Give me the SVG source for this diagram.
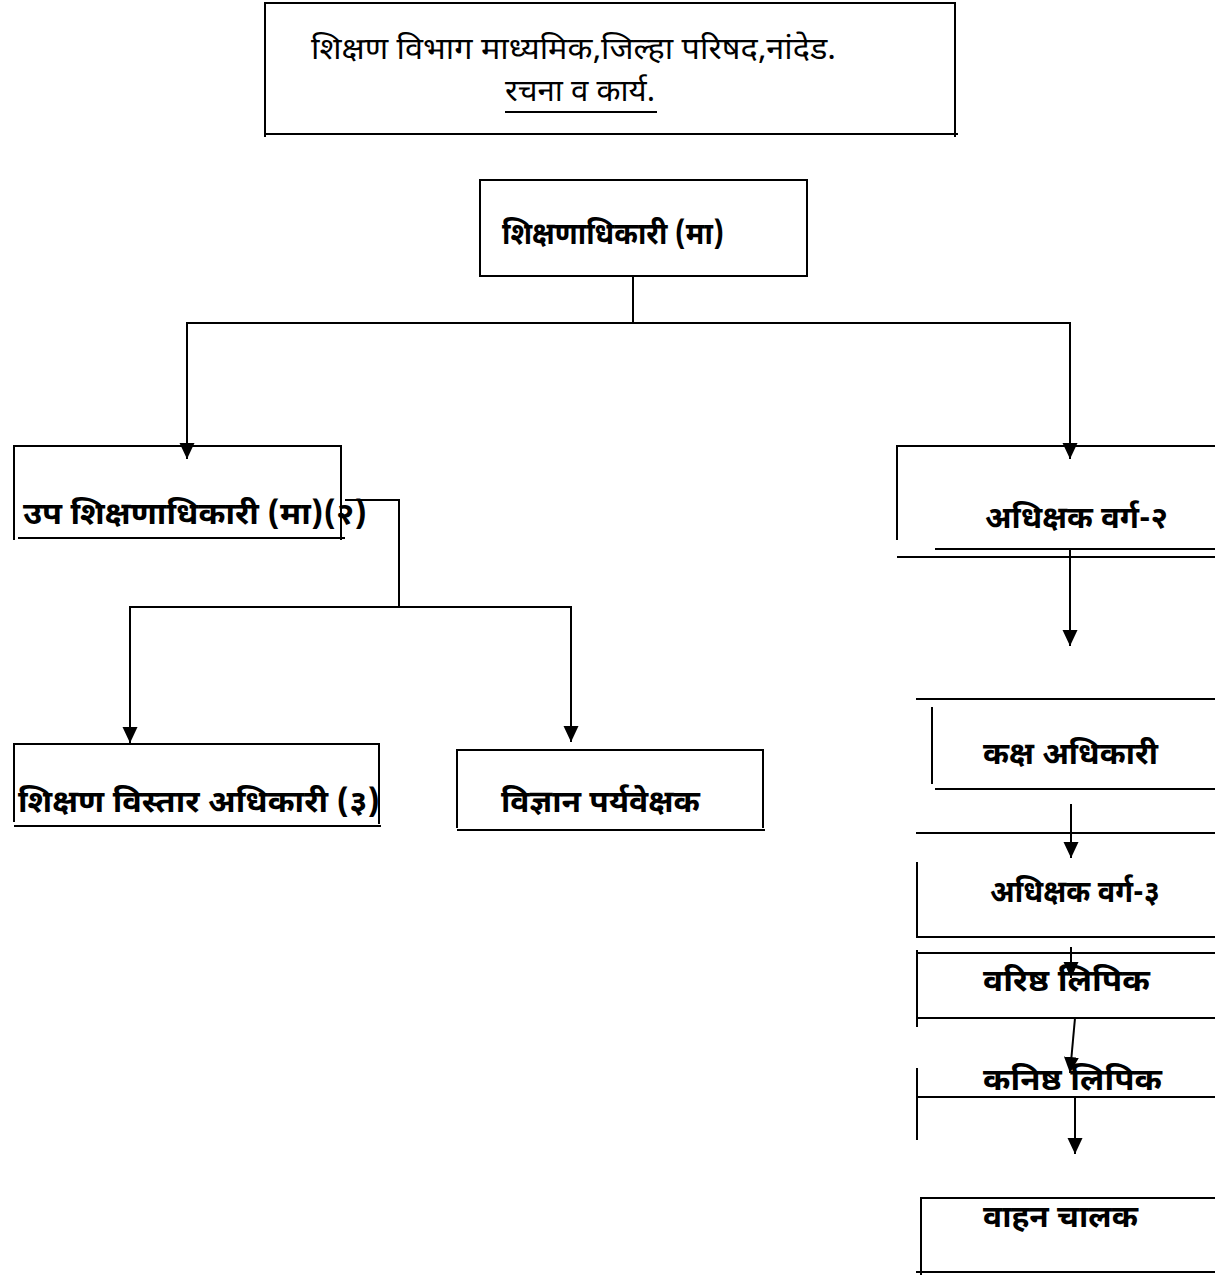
<svg xmlns="http://www.w3.org/2000/svg" width="1215" height="1275" viewBox="0 0 1215 1275">
<style>
  .ln { stroke:#000; stroke-width:2; fill:none; }
  .t { font-family:"Noto Sans Devanagari","Lohit Devanagari","Noto Sans","DejaVu Sans",sans-serif; fill:#000; }
  .b { font-weight:bold; font-size:31px; }
  .r { font-size:30px; }
</style>
<defs>
  <marker id="ah" markerUnits="userSpaceOnUse" markerWidth="16" markerHeight="16" viewBox="0 0 16 16" refX="16" refY="8" orient="auto">
    <path d="M0 0.5 L16 8 L0 15.5 Z" fill="#000"/>
  </marker>
</defs>
<rect width="1215" height="1275" fill="#fff"/>

<g id="title">
  <path class="ln" d="M265 137 V3 H955 V137 M264 134 H958"/>
  <text class="t r" x="311" y="59" textLength="525" lengthAdjust="spacingAndGlyphs">शिक्षण विभाग माध्यमिक,जिल्हा परिषद,नांदेड.</text>
  <text class="t r" x="505" y="101" textLength="150" lengthAdjust="spacingAndGlyphs">रचना व कार्य.</text>
  <line class="ln" x1="505" y1="112" x2="657" y2="112"/>
</g>

<g id="n-eo">
  <rect class="ln" x="480" y="180" width="327" height="96"/>
  <text class="t b" x="502" y="244" textLength="222" lengthAdjust="spacingAndGlyphs">शिक्षणाधिकारी (मा)</text>
</g>

<g id="n-deo">
  <path class="ln" d="M14 540 V446 H341 V540 M18 538 H345"/>
  <text class="t b" x="23" y="524" textLength="344" lengthAdjust="spacingAndGlyphs">उप शिक्षणाधिकारी (मा)(२)</text>
</g>

<g id="n-beo">
  <path class="ln" d="M14 822 V744 H379 V824 M14 826 H381"/>
  <text class="t b" x="18" y="812" textLength="362" lengthAdjust="spacingAndGlyphs">शिक्षण विस्तार अधिकारी (३)</text>
</g>

<g id="n-sci">
  <path class="ln" d="M457 828 V750 H763 V828 M457 830 H765"/>
  <text class="t b" x="501" y="812" textLength="199" lengthAdjust="spacingAndGlyphs">विज्ञान पर्यवेक्षक</text>
</g>

<g id="n-sup2">
  <path class="ln" d="M897 540 V446 H1215 M935 549 H1215 M897 557 H1215"/>
  <text class="t b" x="985" y="528" textLength="183" lengthAdjust="spacingAndGlyphs">अधिक्षक वर्ग-२</text>
</g>

<g id="n-desk">
  <path class="ln" d="M916 699 H1215 M932 707 V784 M935 789 H1215"/>
  <text class="t b" x="983" y="764" textLength="175" lengthAdjust="spacingAndGlyphs">कक्ष अधिकारी</text>
</g>

<g id="n-sup3">
  <path class="ln" d="M916 833 H1215 M917 862 V937 M916 937 H1215"/>
  <text class="t b" x="990" y="902" textLength="170" lengthAdjust="spacingAndGlyphs">अधिक्षक वर्ग-३</text>
</g>

<g id="n-sclerk">
  <path class="ln" d="M916 953 H1215 M917 950 V1027 M916 1018 H1215"/>
  <text class="t b" x="983" y="991" textLength="167" lengthAdjust="spacingAndGlyphs">वरिष्ठ लिपिक</text>
</g>

<g id="n-jclerk">
  <path class="ln" d="M917 1068 V1140 M916 1097 H1215"/>
  <text class="t b" x="983" y="1090" textLength="179" lengthAdjust="spacingAndGlyphs">कनिष्ठ लिपिक</text>
</g>

<g id="n-driver">
  <path class="ln" d="M921 1275 V1198 H1215 M916 1272 H1215"/>
  <text class="t b" x="983" y="1227" textLength="155" lengthAdjust="spacingAndGlyphs">वाहन चालक</text>
</g>

<g id="connectors">
  <path class="ln" d="M633 276 V323"/>
  <path class="ln" d="M633 323 H187 V459" marker-end="url(#ah)"/>
  <path class="ln" d="M633 323 H1070 V459" marker-end="url(#ah)"/>
  <path class="ln" d="M345 500 H399 V607"/>
  <path class="ln" d="M399 607 H130 V743" marker-end="url(#ah)"/>
  <path class="ln" d="M399 607 H571 V742" marker-end="url(#ah)"/>
  <path class="ln" d="M1070 549 V646" marker-end="url(#ah)"/>
  <path class="ln" d="M1071 804 V858" marker-end="url(#ah)"/>
  <path class="ln" d="M1071 947 V978" marker-end="url(#ah)"/>
  <path class="ln" d="M1075 1018 L1070 1073" marker-end="url(#ah)"/>
  <path class="ln" d="M1075 1097 V1154" marker-end="url(#ah)"/>
</g>
</svg>
